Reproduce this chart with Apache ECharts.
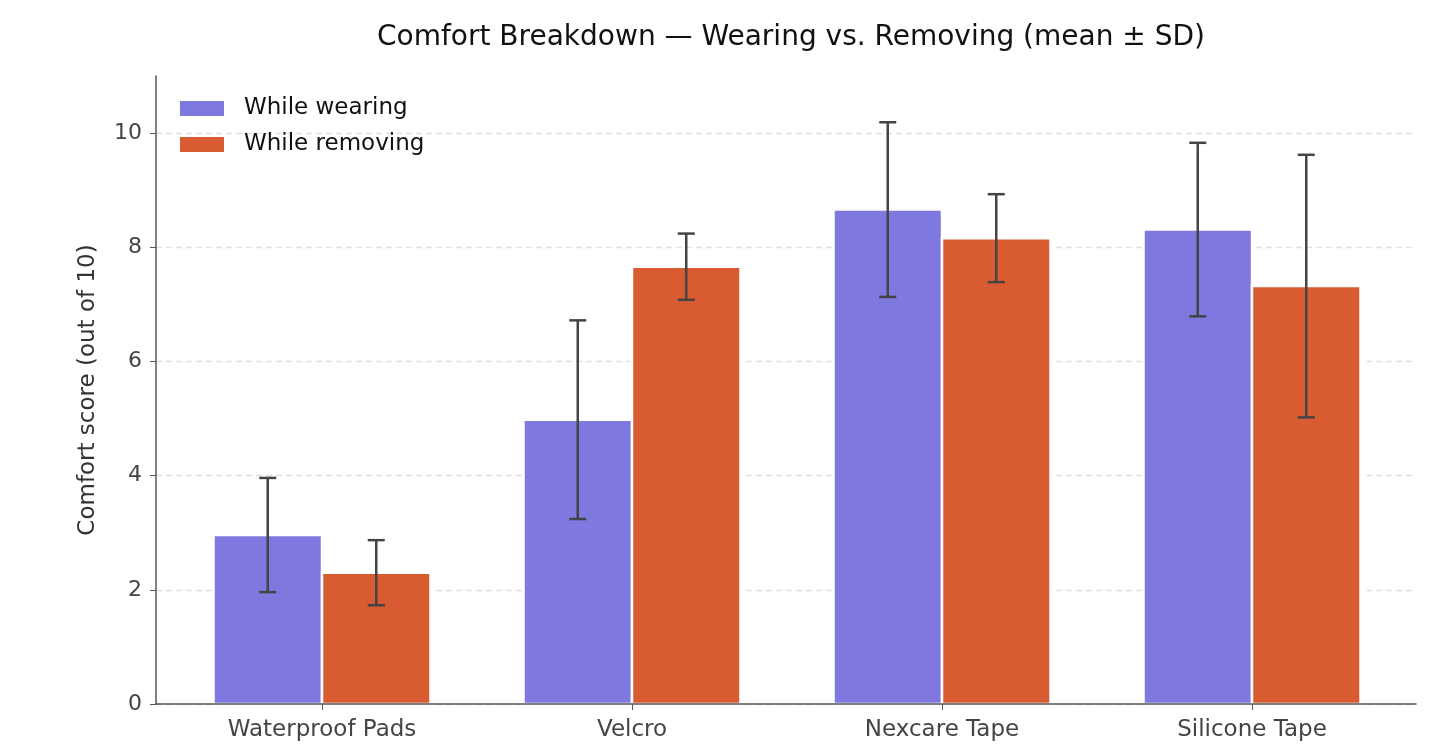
<!DOCTYPE html>
<html>
<head>
<meta charset="utf-8">
<script src="https://cdn.jsdelivr.net/npm/echarts@6/dist/echarts.min.js"></script>
<style>html,body{margin:0;padding:0;background:#fff;}#c{width:1453px;height:747px;}</style>
</head>
<body>
<div id="c"></div>
<script>
const categories = ['Waterproof Pads', 'Velcro', 'Nexcare Tape', 'Silicone Tape'];
const wearingMean = [2.96, 4.98, 8.66, 8.31];
const wearingSD = [1.00, 1.74, 1.53, 1.52];
const removingMean = [2.30, 7.66, 8.16, 7.32];
const removingSD = [0.57, 0.58, 0.77, 2.30];
const yTicks = [0, 2, 4, 6, 8, 10];

const colWear = '#7F78DE';
const colRem = '#D85B32';
const BW = 0.35;

function makeRender(offset, color) {
  return function (params, api) {
    const x = api.value(0) + offset;
    const v = api.value(1);
    const sd = api.value(2);
    const p0 = api.coord([x - BW / 2, v]);
    const p1 = api.coord([x + BW / 2, 0]);
    const top = api.coord([x, v + sd]);
    const bot = api.coord([x, v - sd]);
    const cap = 8.5;
    const es = { stroke: '#444', lineWidth: 2.5 };
    return {
      type: 'group',
      children: [
        { type: 'rect', shape: { x: p0[0], y: p0[1], width: p1[0] - p0[0], height: p1[1] - p0[1] },
          style: { fill: color, stroke: '#fff', lineWidth: 2.5 } },
        { type: 'line', shape: { x1: top[0], y1: top[1], x2: bot[0], y2: bot[1] }, style: es },
        { type: 'line', shape: { x1: top[0] - cap, y1: top[1], x2: top[0] + cap, y2: top[1] }, style: es },
        { type: 'line', shape: { x1: bot[0] - cap, y1: bot[1], x2: bot[0] + cap, y2: bot[1] }, style: es }
      ]
    };
  };
}

const wearData = categories.map((c, i) => [i, wearingMean[i], wearingSD[i]]);
const remData = categories.map((c, i) => [i, removingMean[i], removingSD[i]]);

const chart = echarts.init(document.getElementById('c'), null, { renderer: 'canvas' });
chart.setOption({
  animation: false,
  textStyle: { fontFamily: 'DejaVu Sans' },
  title: {
    text: 'Comfort Breakdown — Wearing vs. Removing (mean ± SD)',
    left: 786, textAlign: 'center', top: 19,
    textStyle: { fontFamily: 'DejaVu Sans', fontSize: 28, fontWeight: 'normal', color: '#111' }
  },
  legend: {
    orient: 'vertical', left: 175, top: 92,
    itemWidth: 44, itemHeight: 15, itemGap: 13,
    icon: 'rect',
    textStyle: { fontFamily: 'DejaVu Sans', fontSize: 23, color: '#111', padding: [0, 0, 0, 15] },
    data: ['While wearing', 'While removing']
  },
  grid: { left: 156, right: 37, top: 76, bottom: 43, containLabel: false },
  xAxis: {
    type: 'value', min: -0.5355, max: 3.529, z: 5,
    axisLine: { show: true, onZero: false, lineStyle: { color: '#555', width: 1.5 } },
    axisTick: { show: true, customValues: [0, 1, 2, 3], length: 6, lineStyle: { color: '#555' } },
    axisLabel: { customValues: [0, 1, 2, 3], formatter: v => categories[Math.round(v)], fontSize: 23, color: '#444', margin: 15 },
    splitLine: { show: false }
  },
  yAxis: {
    type: 'value', min: 0, max: 11,
    name: 'Comfort score (out of 10)', nameLocation: 'middle', nameGap: 56,
    nameTextStyle: { fontFamily: 'DejaVu Sans', fontSize: 23, color: '#333' },
    axisLine: { show: true, onZero: false, lineStyle: { color: '#555', width: 1.5 } },
    axisTick: { show: true, customValues: yTicks, length: 6, lineStyle: { color: '#555' } },
    axisLabel: { customValues: yTicks, fontSize: 22, color: '#444', margin: 14 },
    splitLine: { show: true, lineStyle: { color: '#e0e0e0', type: [6, 4], width: 1.3 } }
  },
  series: [
    { name: 'While wearing', type: 'custom', itemStyle: { color: colWear },
      renderItem: makeRender(-BW / 2, colWear), encode: { x: 0, y: 1 }, data: wearData },
    { name: 'While removing', type: 'custom', itemStyle: { color: colRem },
      renderItem: makeRender(BW / 2, colRem), encode: { x: 0, y: 1 }, data: remData }
  ]
});
</script>
</body>
</html>
